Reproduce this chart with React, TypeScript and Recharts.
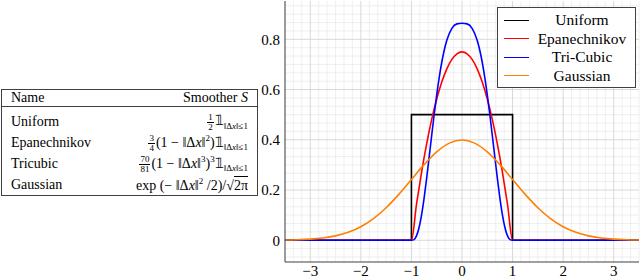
import React from "react";
import { LineChart, Line, XAxis, YAxis, CartesianGrid } from "recharts";

// values
const uniformX = [-3.5, -1, -1, 1, 1, 3.5];
const uniformY = [0, 0, 0.5, 0.5, 0, 0];

const epanX = [-3.5, -1, -0.9, -0.8, -0.7, -0.6, -0.5, -0.4, -0.3, -0.2, -0.1, 0, 0.1, 0.2, 0.3, 0.4, 0.5, 0.6, 0.7, 0.8, 0.9, 1, 3.5];
const epanY = [0, 0, 0.1425, 0.27, 0.3825, 0.48, 0.5625, 0.63, 0.6825, 0.72, 0.7425, 0.75, 0.7425, 0.72, 0.6825, 0.63, 0.5625, 0.48, 0.3825, 0.27, 0.1425, 0, 0];

const triX = [-3.5, -1, -0.95, -0.9, -0.85, -0.8, -0.75, -0.7, -0.65, -0.6, -0.55, -0.5, -0.45, -0.4, -0.3, -0.2, -0.1, 0, 0.1, 0.2, 0.3, 0.4, 0.45, 0.5, 0.55, 0.6, 0.65, 0.7, 0.75, 0.8, 0.85, 0.9, 0.95, 1, 3.5];
const triY = [0, 0, 0.0025, 0.0172, 0.0497, 0.1004, 0.167, 0.2451, 0.3298, 0.4165, 0.5006, 0.5789, 0.6488, 0.7087, 0.7961, 0.8436, 0.8616, 0.8642, 0.8616, 0.8436, 0.7961, 0.7087, 0.6488, 0.5789, 0.5006, 0.4165, 0.3298, 0.2451, 0.167, 0.1004, 0.0497, 0.0172, 0.0025, 0, 0];

const gaussX = [-3.5, -3.25, -3, -2.75, -2.5, -2.25, -2, -1.75, -1.5, -1.25, -1, -0.75, -0.5, -0.25, 0, 0.25, 0.5, 0.75, 1, 1.25, 1.5, 1.75, 2, 2.25, 2.5, 2.75, 3, 3.25, 3.5];
const gaussY = [0.0009, 0.002, 0.0044, 0.0091, 0.0175, 0.0317, 0.054, 0.0863, 0.1295, 0.1826, 0.242, 0.3011, 0.3521, 0.3867, 0.3989, 0.3867, 0.3521, 0.3011, 0.242, 0.1826, 0.1295, 0.0863, 0.054, 0.0317, 0.0175, 0.0091, 0.0044, 0.002, 0.0009];

const xTicks = [-3, -2, -1, 0, 1, 2, 3];
const yTicks = [0, 0.2, 0.4, 0.6, 0.8];
const xDomain = [-3.5, 3.5];
const yDomain = [-0.0866, 0.9526];

const seriesNames = ["Uniform", "Epanechnikov", "Tri-Cubic", "Gaussian"];
const seriesColors = ["#000000", "#ff0000", "#0000ff", "#ff8000"];

const zip = (xs: number[], ys: number[]) => xs.map((x, i) => ({ x, y: ys[i] }));
const allSeries = [zip(uniformX, uniformY), zip(epanX, epanY), zip(triX, triY), zip(gaussX, gaussY)];

const xMinor: number[] = [];
for (let i = -21; i <= 21; i++) if (i % 6 !== 0) xMinor.push(i / 6);
const yMinor: number[] = [];
for (let i = -2; i <= 28; i++) if (i % 6 !== 0) yMinor.push(i / 30);

const serif = "Liberation Serif, serif";
const frame = "#404040";
const minus = (v: number) => String(v).replace("-", "\u2212");
const tickStyle = { fill: "#000", fontSize: 15, fontFamily: serif, style: { fontFamily: serif } };

const Frac = ({ n, d }: { n: string; d: string }) => (
  <span style={{ display: "inline-flex", flexDirection: "column", alignItems: "center", fontSize: 9, lineHeight: "9px", verticalAlign: "middle", margin: "0 1px" }}>
    <span style={{ borderBottom: "0.8px solid #000", padding: "0 1px" }}>{n}</span>
    <span>{d}</span>
  </span>
);

const Ind = () => (
  <>
    <span>𝟙</span>
    <sub style={{ fontSize: 9 }}>‖Δ<i>x</i>‖≤1</sub>
  </>
);

const tableRows = [
  { name: "Uniform", formula: (<><Frac n="1" d="2" /><Ind /></>) },
  { name: "Epanechnikov", formula: (<><Frac n="3" d="4" />(1 − ‖Δ<i>x</i>‖<sup style={{ fontSize: 9 }}>2</sup>)<Ind /></>) },
  { name: "Tricubic", formula: (<><Frac n="70" d="81" />(1 − ‖Δ<i>x</i>‖<sup style={{ fontSize: 9 }}>3</sup>)<sup style={{ fontSize: 9 }}>3</sup><Ind /></>) },
  { name: "Gaussian", formula: (<>exp (− ‖Δ<i>x</i>‖<sup style={{ fontSize: 9 }}>2</sup> /2)/√<span style={{ borderTop: "1px solid #000", paddingTop: 1 }}>2π</span></>) },
];
const rowCenters = [122, 143, 164, 185];

export default function App() {
  return (
    <div style={{ position: "fixed", left: 0, top: 0, width: 640, height: 278, background: "#fff", fontFamily: serif }}>
      <LineChart width={640} height={278} margin={{ top: 1, right: 1, bottom: 0, left: 255 }} style={{ position: "absolute", left: 0, top: 0, fontFamily: serif }}>
        <CartesianGrid xAxisId="main" yAxisId="main" verticalValues={xMinor} horizontalValues={yMinor} stroke="#ebebeb" strokeWidth={0.8} fill="none" />
        <CartesianGrid xAxisId="main" yAxisId="main" verticalValues={xTicks} horizontalValues={yTicks} stroke="#d8d8d8" strokeWidth={1} fill="none" />
        <XAxis xAxisId="main" dataKey="x" type="number" domain={xDomain} allowDataOverflow ticks={xTicks} interval={0} tickFormatter={minus}
          height={16} tickSize={0} tickMargin={3} tickLine={false} axisLine={{ stroke: frame }} tick={tickStyle} />
        <XAxis xAxisId="bmaj" type="number" domain={xDomain} allowDataOverflow ticks={xTicks} interval={0} mirror height={0} tickSize={4} tick={false} axisLine={false} tickLine={{ stroke: frame }} />
        <XAxis xAxisId="bmin" type="number" domain={xDomain} allowDataOverflow ticks={xMinor} interval={0} mirror height={0} tickSize={2} tick={false} axisLine={false} tickLine={{ stroke: frame }} />
        <XAxis xAxisId="tmaj" orientation="top" type="number" domain={xDomain} allowDataOverflow ticks={xTicks} interval={0} mirror height={0} tickSize={4} tick={false} axisLine={{ stroke: frame }} tickLine={{ stroke: frame }} />
        <XAxis xAxisId="tmin" orientation="top" type="number" domain={xDomain} allowDataOverflow ticks={xMinor} interval={0} mirror height={0} tickSize={2} tick={false} axisLine={false} tickLine={{ stroke: frame }} />
        <YAxis yAxisId="main" type="number" domain={yDomain} allowDataOverflow ticks={yTicks} interval={0} width={30} tickSize={0} tickMargin={5} tickLine={false}
          axisLine={{ stroke: frame }} tick={tickStyle} />
        <YAxis yAxisId="lmaj" type="number" domain={yDomain} allowDataOverflow ticks={yTicks} interval={0} mirror width={0} tickSize={4} tick={false} axisLine={false} tickLine={{ stroke: frame }} />
        <YAxis yAxisId="lmin" type="number" domain={yDomain} allowDataOverflow ticks={yMinor} interval={0} mirror width={0} tickSize={2} tick={false} axisLine={false} tickLine={{ stroke: frame }} />
        <YAxis yAxisId="rmaj" orientation="right" type="number" domain={yDomain} allowDataOverflow ticks={yTicks} interval={0} mirror width={0} tickSize={4} tick={false} axisLine={{ stroke: frame }} tickLine={{ stroke: frame }} />
        <YAxis yAxisId="rmin" orientation="right" type="number" domain={yDomain} allowDataOverflow ticks={yMinor} interval={0} mirror width={0} tickSize={2} tick={false} axisLine={false} tickLine={{ stroke: frame }} />
        {allSeries.map((d, i) => (
          <Line key={seriesNames[i]} xAxisId="main" yAxisId="main" data={d} dataKey="y" type={i === 0 ? "linear" : "monotone"}
            stroke={seriesColors[i]} strokeWidth={1.6} dot={false} isAnimationActive={false} />
        ))}
      </LineChart>

      <div style={{ position: "absolute", left: 497, top: 7, width: 139, height: 81, boxSizing: "border-box", border: `1px solid ${frame}`, background: "#fff" }}>
        {seriesNames.map((n, i) => (
          <div key={n} style={{ position: "absolute", left: 0, top: 3 + i * 18.5, width: 137, height: 18, display: "flex", alignItems: "center" }}>
            <div style={{ marginLeft: 6, width: 25, height: 0, borderTop: `1.6px solid ${seriesColors[i]}` }} />
            <div style={{ flex: 1, textAlign: "center", fontSize: 15.5 }}>{n}</div>
          </div>
        ))}
      </div>

      <div style={{ position: "absolute", left: 1, top: 89, width: 257, height: 107, boxSizing: "border-box", border: `1px solid ${frame}`, background: "#fff", fontSize: 14 }}>
        <div style={{ position: "absolute", left: 0, top: 0, width: 255, height: 17, borderBottom: `1px solid ${frame}`, display: "flex", justifyContent: "space-between", alignItems: "center", padding: "0 9px", boxSizing: "border-box" }}>
          <span>Name</span>
          <span>Smoother <i>S</i></span>
        </div>
        {tableRows.map((r, i) => (
          <div key={r.name} style={{ position: "absolute", left: 0, top: rowCenters[i] - 90 - 10, width: 255, height: 20, display: "flex", justifyContent: "space-between", alignItems: "center", padding: "0 9px", boxSizing: "border-box", whiteSpace: "nowrap" }}>
            <span>{r.name}</span>
            <span>{r.formula}</span>
          </div>
        ))}
      </div>
    </div>
  );
}
